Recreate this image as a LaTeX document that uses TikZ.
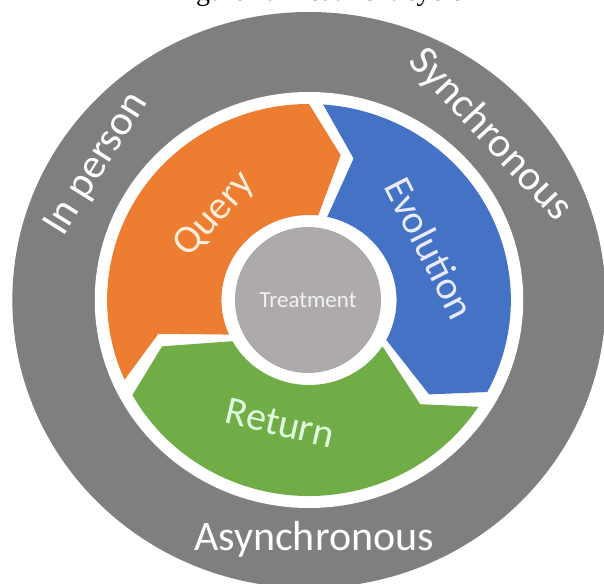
\documentclass[tikz,border=0pt]{standalone}
\usepackage{fontspec}
\setmainfont{Carlito}
\newfontfamily\captionfont{Liberation Serif}
\usepackage{tikz}
\definecolor{ringgray}{HTML}{7F7F7F}
\definecolor{coregray}{HTML}{AEAAAA}
\definecolor{queryorange}{HTML}{ED7D31}
\definecolor{evolblue}{HTML}{4472C4}
\definecolor{returngreen}{HTML}{70AD47}

\begin{document}
\begin{tikzpicture}[x=1pt, y=1pt]
        \tikzset{
            outer_label/.style={text=white, inner sep=0pt, font=\fontsize{42}{42}\selectfont},
            seg_label/.style={inner sep=0pt, font=\fontsize{40}{40}\selectfont},
            segment/.style={line join=miter}
        }
        \useasboundingbox (-309,-283) rectangle (295,300);
        \node[anchor=base, font=\captionfont\fontsize{28}{28}\selectfont] (caption) at (9,299) {Figure 1. Treatment cycle};
        \begin{scope}[xscale=1.03]
            \fill[ringgray] (0,0) circle[radius=288];
            \fill[white] (0,0) circle[radius=208];
            \fill[segment, queryorange] (204:196) arc[start angle=204, end angle=90, radius=196]
                -- (78:148) -- (84:85) arc[start angle=84, end angle=204, radius=85] -- (193:150) -- cycle;
            \fill[segment, evolblue] (86:196) arc[start angle=86, end angle=-28, radius=196]
                -- (-39:150) -- (-28:85) arc[start angle=-28, end angle=78, radius=85] -- (73:148) -- cycle;
            \fill[segment, returngreen] (-33:196) arc[start angle=-33, end angle=-151, radius=196]
                -- (-162:150) -- (-151:85) arc[start angle=-151, end angle=-33, radius=85] -- (-44:150) -- cycle;
        \end{scope}
        \node[circle, fill=coregray, minimum size=146pt, inner sep=0pt, text=white!95!black,
            font=\fontsize{23}{23}\selectfont] (treatment) at (-1,0) {Treatment};
        \node[seg_label, text=orange!15!white, rotate=48] (query) at (-94,85) {Query};
        \node[seg_label, text=blue!8!white, rotate=-63] (evolution) at (121,52) {Evolution};
        \node[seg_label, text=green!12!white, rotate=-13] (return) at (-29,-123) {Return};
        \node[outer_label, rotate=58] (inperson) at (-212,136) {In person};
        \node[outer_label, rotate=-47] (sync) at (181,165) {Synchronous};
        \node[outer_label] (async) at (5,-239) {Asynchronous};
    \end{tikzpicture}
\end{document}
